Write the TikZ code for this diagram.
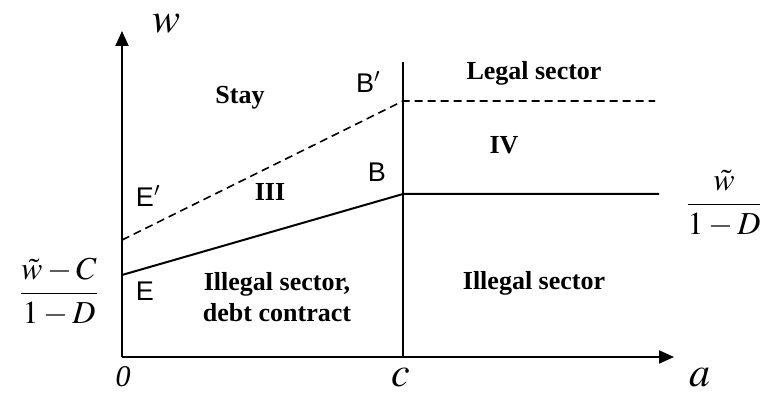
\documentclass[tikz,border=0pt]{standalone}
\usepackage{mathptmx}
\usepackage[no-math]{fontspec}
\setmainfont{Liberation Serif}
\newfontfamily\arialfont{Liberation Sans}
\usetikzlibrary{arrows.meta}

\begin{document}
\begin{tikzpicture}[
        x=1pt, y=-1pt,
        axis/.style={line width=2pt, -{Triangle[length=15pt,width=13pt]}},
        bound/.style={line width=2pt},
        thresh/.style={line width=1.6pt, dash pattern=on 8pt off 5pt},
        region/.style={font=\fontsize{26}{31}\selectfont\bfseries, align=center, inner sep=0pt},
        point/.style={font=\arialfont\fontsize{27}{29}\selectfont, inner sep=0pt},
        axlabel/.style={font=\fontsize{42}{44}\selectfont, inner sep=0pt, anchor=base},
        level/.style={font=\fontsize{32}{34}\selectfont, inner sep=0pt},
    ]
    \useasboundingbox (0,0) rectangle (766,395);

    \coordinate (O) at (122,357);
    \coordinate (wtop) at (122,31);
    \coordinate (atop) at (674,357);
    \coordinate (c) at (403,357);
    \coordinate (ctop) at (403,62);
    \coordinate (E) at (122,275);
    \coordinate (B) at (403,194);
    \coordinate (Bend) at (659,194);
    \coordinate (Ep) at (122,240);
    \coordinate (Bp) at (403,101);
    \coordinate (Bpend) at (655,101);

    \draw[axis] (O) -- (wtop);
    \draw[axis] (O) -- (atop);
    \draw[bound] (c) -- (ctop);
    \draw[bound] (E) -- (B) -- (Bend);
    \draw[thresh] (Ep) -- (Bp) -- (Bpend);

    \node[axlabel] (wlab) at (167,33) {$w$};
    \node[axlabel] (alab) at (700,387) {$a$};
    \node[axlabel] (clab) at (401,387) {$c$};
    \node[axlabel, font=\fontsize{30}{32}\selectfont\itshape] (zero) at (123,387) {0};

    \node[level] (lowlev) at (59,292) {$\displaystyle\frac{\tilde{w}-C}{1-D}$};
    \node[level] (highlev) at (724,204) {$\displaystyle\frac{\tilde{w}}{1-D}$};

    \node[point] (Elab) at (145,291) {E};
    \node[point] (Eplab) at (148,196) {E$'$};
    \node[point] (Blab) at (377,172) {B};
    \node[point] (Bplab) at (368,82) {B$'$};

    \node[region] (stay) at (240,98) {Stay};
    \node[region] (legal) at (534,73) {Legal sector};
    \node[region] (three) at (270,192) {III};
    \node[region] (four) at (504,145) {IV};
    \node[region] (debt) at (277,297) {Illegal sector,\\debt contract};
    \node[region] (illegal) at (534,283) {Illegal sector};

\end{tikzpicture}
\end{document}
